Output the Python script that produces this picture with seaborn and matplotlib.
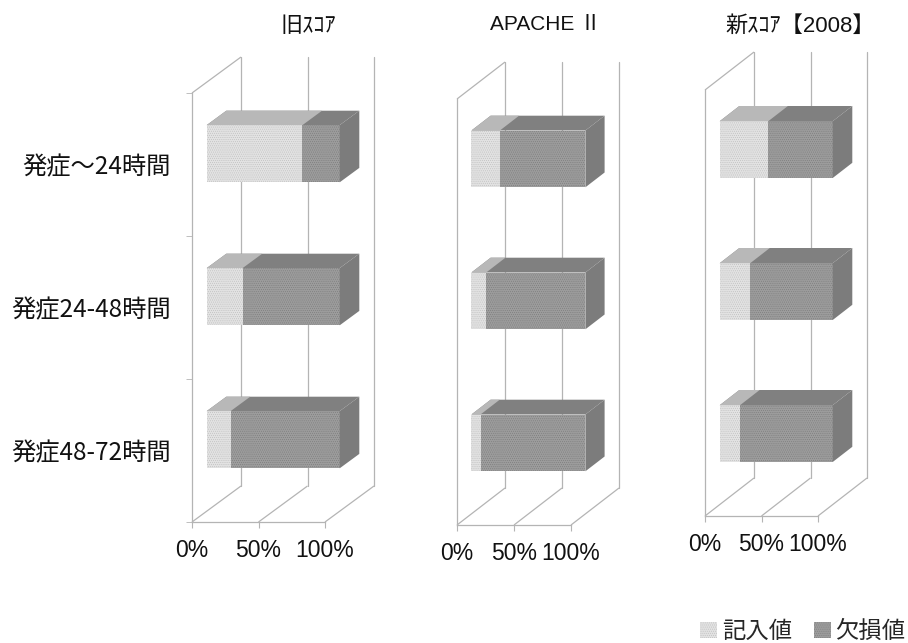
import matplotlib
matplotlib.use("Agg")
import matplotlib.pyplot as plt
from matplotlib.patches import Patch, Polygon
from matplotlib.transforms import Affine2D
import seaborn as sns

categories = ["発症～24時間", "発症24-48時間", "発症48-72時間"]
panel_titles = ["旧ｽｺｱ", "APACHE Ⅱ", "新ｽｺｱ【2008】"]
recorded_old = [72, 27, 18]
recorded_apache = [25, 13, 8]
recorded_new = [43, 27, 18]
missing_old = [28, 73, 82]
missing_apache = [75, 87, 92]
missing_new = [57, 73, 82]
tick_values = [0, 50, 100]
tick_labels = ["0%", "50%", "100%"]
legend_labels = ["記入値", "欠損値"]

sns.set_style("white")
JP = ["Noto Sans CJK JP", "DejaVu Sans"]
LAT = ["Liberation Sans", "Noto Sans CJK JP", "DejaVu Sans"]
plt.rcParams["font.family"] = JP
plt.rcParams["hatch.linewidth"] = 0.35

W, H = 908, 643
LINE = "#b4b4b4"
FRONT_LIGHT, HATCH_LIGHT = "#e2e2e2", "#bcbcbc"
FRONT_DARK, HATCH_DARK = "#9c9c9c", "#7a7a7a"
TOP_LIGHT, TOP_DARK, SIDE = "#b8b8b8", "#808080", "#7c7c7c"

fig = plt.figure(figsize=(W / 100, H / 100), dpi=100, facecolor="white")

# pixel layout of each panel: left, right, floor y, top y, depth dx, depth dy
layouts = [
    (192, 325, 522, 93, 49, 36),
    (457, 571, 525, 99, 48, 37),
    (705, 818, 516, 90, 49, 38),
]
recorded = [recorded_old, recorded_apache, recorded_new]
missing = [missing_old, missing_apache, missing_new]
BAR_NEAR, BAR_FAR = 0.30, 0.70

for i, (l, r, floor, top, ddx, ddy) in enumerate(layouts):
    ax = fig.add_axes([l / W, 1 - floor / H, (r - l) / W, (floor - top) / H])
    ax.set_facecolor("none")
    totals = [a + b for a, b in zip(recorded[i], missing[i])]
    sns.barplot(x=totals, y=categories, color=FRONT_DARK, saturation=1, width=0.4,
                ax=ax, hatch="........", edgecolor=HATCH_DARK, linewidth=0, zorder=3)
    n_dark = len(ax.patches)
    sns.barplot(x=recorded[i], y=categories, color=FRONT_LIGHT, saturation=1, width=0.4,
                ax=ax, hatch="........", edgecolor=HATCH_LIGHT, linewidth=0, zorder=4)
    ax.set_xlim(0, 100)
    ax.set_ylim(2.5, -0.5)
    fig.canvas.draw()

    def shift(f):
        return ax.transData + Affine2D().translate(ddx * f, ddy * f)

    back = shift(1)
    y0, y1 = ax.get_ylim()
    # back wall grid and floor lines
    for v in tick_values:
        ax.plot([v, v], [y0, y1], transform=back, color=LINE, lw=0.9, clip_on=False, zorder=1)
        p0 = ax.transData.transform((v, y0))
        ax.add_patch(Polygon([p0, p0 + (ddx, ddy)], closed=False, fill=False, edgecolor=LINE,
                             lw=0.9, transform=None, clip_on=False, zorder=1))
    p1 = ax.transData.transform((0, y1))
    ax.add_patch(Polygon([p1, p1 + (ddx, ddy)], closed=False, fill=False, edgecolor=LINE,
                         lw=0.9, transform=None, clip_on=False, zorder=1))

    # pseudo 3-D faces built from the seaborn bars
    for k, patch in enumerate(list(ax.patches)):
        if not hasattr(patch, "get_width"):
            continue
        x0, w = patch.get_x(), patch.get_width()
        yb, h = patch.get_y(), patch.get_height()
        patch.set_transform(shift(BAR_NEAR))
        patch.set_clip_on(False)
        a = ax.transData.transform((x0, yb))
        b = ax.transData.transform((x0 + w, yb))
        c = ax.transData.transform((x0 + w, yb + h))
        near = (ddx * BAR_NEAR, ddy * BAR_NEAR)
        far = (ddx * BAR_FAR, ddy * BAR_FAR)
        is_dark = k < n_dark
        ax.add_patch(Polygon([a + near, b + near, b + far, a + far],
                             facecolor=TOP_DARK if is_dark else TOP_LIGHT, edgecolor="none",
                             transform=None, clip_on=False, zorder=3 if is_dark else 4))
        if is_dark:
            ax.add_patch(Polygon([b + near, b + far, c + far, c + near],
                                 facecolor=SIDE, edgecolor="none",
                                 transform=None, clip_on=False, zorder=3))

    sns.despine(ax=ax, top=True, right=True)
    for s in ("left", "bottom"):
        ax.spines[s].set_color(LINE)
        ax.spines[s].set_linewidth(0.9)
    ax.set_xlabel("")
    ax.set_ylabel("")
    ax.set_xticks(tick_values, tick_labels, family=LAT, fontsize=16.5, color="#111111")
    ax.tick_params(axis="x", length=4, color=LINE, pad=8.5, bottom=True)
    ax.set_yticks([-0.5, 0.5, 1.5, 2.5], minor=True)
    if i == 0:
        ax.tick_params(axis="y", which="major", length=0, pad=15.5)
        ax.set_yticks(range(len(categories)), categories, fontsize=17.5, color="#111111")
        ax.tick_params(axis="y", which="minor", left=True, length=4, color=LINE)
    else:
        ax.tick_params(axis="y", which="both", left=False, labelleft=False)

title_pos = [(308, 26, 16), (545, 25, 15), (800, 26, 16)]
for title, (x, y, size) in zip(panel_titles, title_pos):
    fig.text(x / W, 1 - y / H, title, ha="center", va="center", family=LAT,
             fontsize=size, color="#111111")

handles = [Patch(facecolor=FRONT_LIGHT, edgecolor=HATCH_LIGHT, hatch="........", lw=0),
           Patch(facecolor=FRONT_DARK, edgecolor=HATCH_DARK, hatch="........", lw=0)]
fig.legend(handles, legend_labels, ncol=2, frameon=False, fontsize=16.8,
           loc="lower right", bbox_to_anchor=(1.0, -0.004), handlelength=0.72, handleheight=0.72,
           handletextpad=0.2, columnspacing=0.95, borderaxespad=0, borderpad=0.1)

fig.savefig("out.png", dpi=100, facecolor="white")
